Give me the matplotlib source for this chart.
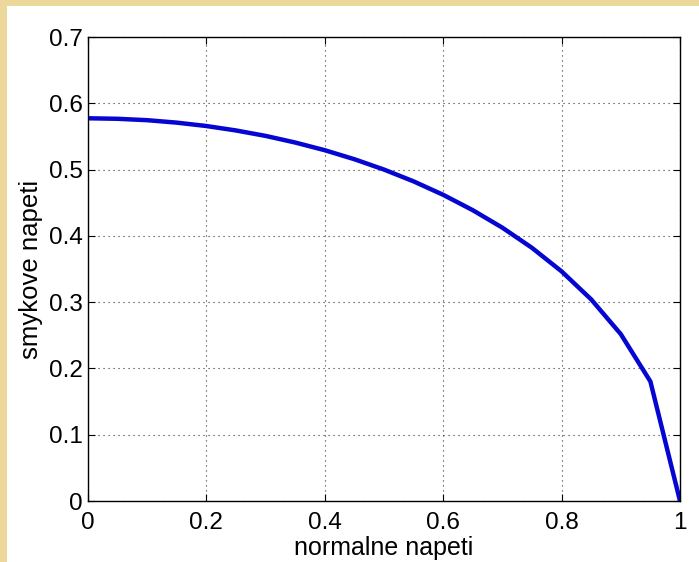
import numpy as np
import matplotlib.pyplot as plt
from matplotlib.patches import Rectangle

# values
normalne = [0.0, 0.05, 0.1, 0.15, 0.2, 0.25, 0.3, 0.35, 0.4, 0.45, 0.5,
            0.55, 0.6, 0.65, 0.7, 0.75, 0.8, 0.85, 0.9, 0.95, 1.0]
smykove = [0.5774, 0.5766, 0.5745, 0.5708, 0.5657, 0.5590, 0.5508, 0.5408,
           0.5292, 0.5156, 0.5000, 0.4822, 0.4619, 0.4387, 0.4123, 0.3819,
           0.3464, 0.3041, 0.2517, 0.1803, 0.0]
xticks = [0, 0.2, 0.4, 0.6, 0.8, 1]
yticks = [0, 0.1, 0.2, 0.3, 0.4, 0.5, 0.6, 0.7]

plt.rcParams['font.family'] = ['Liberation Sans', 'DejaVu Sans']

W, H = 699, 562
fig = plt.figure(figsize=(W / 100, H / 100), dpi=100)
fig.patch.set_facecolor('#ecd89a')
# white slide area inside the yellow border
fig.add_artist(Rectangle((7 / W, 0), 1 - 7 / W, 1 - 6 / H,
                         transform=fig.transFigure, facecolor='white',
                         edgecolor='none', zorder=-10))

ax = fig.add_axes([88 / W, 1 - 501 / H, (680 - 88) / W, (501 - 37) / H])
ax.plot(normalne, smykove, color='#0606d2', linewidth=3.2)

ax.set_xlim(0, 1)
ax.set_ylim(0, 0.7)
ax.set_xticks(xticks)
ax.set_yticks(yticks)
ax.set_xticklabels([f'{t:g}' for t in xticks])
ax.set_yticklabels([f'{t:g}' for t in yticks])
ax.tick_params(direction='in', length=5, width=0.8, labelsize=17.5,
               top=True, right=True)
ax.tick_params(axis='y', pad=4)
ax.tick_params(axis='x', pad=8)
ax.grid(True, color='#333333', linewidth=0.8, dashes=(1, 3.5))
for s in ax.spines.values():
    s.set_linewidth(1.0)

ax.set_xlabel('normalne napeti', fontsize=18, labelpad=1)
ax.set_ylabel('smykove napeti', fontsize=18.5, labelpad=4)

plt.savefig('out.png', dpi=100)
